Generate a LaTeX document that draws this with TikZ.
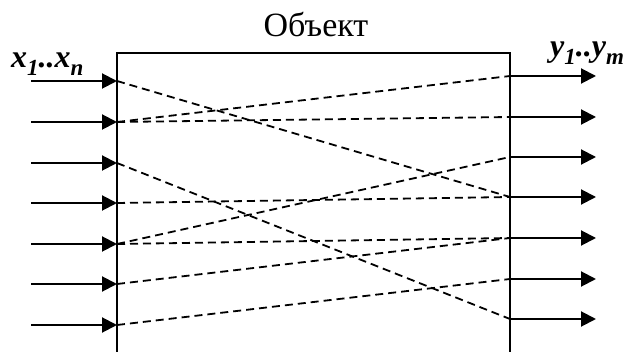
\documentclass[tikz,border=0pt]{standalone}
\usepackage{fontspec}
\setmainfont{Liberation Serif}
\usetikzlibrary{arrows.meta}
\newcommand{\lowidx}[1]{\raisebox{-0.22em}{\fontsize{23}{23}\selectfont #1}}
\tikzset{
    port/.style={
        -{Triangle[length=15pt,width=15pt]},line width=2pt
    },
    link/.style={
        line width=1.8pt,dash pattern=on 8pt off 5pt
    },
    wall/.style={
        line width=2.2pt
    },
    label/.style={
        font=\fontsize{32}{33}\selectfont\bfseries\itshape,inner sep=0pt
    }
}

\begin{document}
\begin{tikzpicture}[x=1pt,y=-1pt]
\useasboundingbox (0,0) rectangle (629,352);

% object box, open at the bottom
\draw[wall] (117,353) |- (510,53) -- (510,353);
\node[anchor=base,inner sep=0pt,font=\fontsize{34}{36}\selectfont]
(title) at (316,37) {Объект};

% inputs and outputs
\foreach \i/\yin/\yout in {1/81/76,2/122/117,3/163/157,4/203/197,5/244/238,6/284/279,7/325/319}{
    \coordinate (xs\i) at (31,\yin);
    \coordinate (x\i) at (117,\yin);
    \coordinate (y\i) at (510,\yout);
    \coordinate (ye\i) at (596,\yout);
    \draw[port] (xs\i) -- (x\i);
    \draw[port] (y\i) -- (ye\i);
}

\node[label,anchor=base west] (xlabel) at (11,68)
{x\lowidx{1}..x\lowidx{n}};
\node[label,anchor=base west] (ylabel) at (550,57)
{y\lowidx{1}..y\lowidx{m}};

% links inside the object
\draw[link] (x1) -- (y4);
\draw[link] (x2) -- (y1);
\draw[link] (x2) -- (y2);
\draw[link] (x3) -- (y7);
\draw[link] (x4) -- (y4);
\draw[link] (x5) -- (y3);
\draw[link] (x5) -- (y5);
\draw[link] (x6) -- (y5);
\draw[link] (x7) -- (y6);

\end{tikzpicture}
\end{document}
